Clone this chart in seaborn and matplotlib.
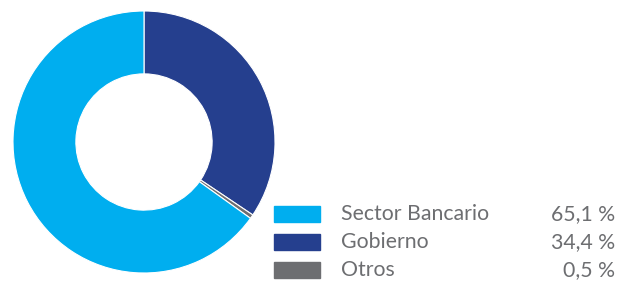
import matplotlib
matplotlib.use("Agg")
import matplotlib.pyplot as plt
from matplotlib.patches import Rectangle
import seaborn as sns

# data, in drawing order (clockwise from 12 o'clock)
labels = ["Gobierno", "Otros", "Sector Bancario"]
values = [34.4, 0.5, 65.1]
colors = ["#253f8e", "#6d6e71", "#00aeef"]
# legend order as in the reference
legend_labels = ["Sector Bancario", "Gobierno", "Otros"]
legend_values = ["65,1 %", "34,4 %", "0,5 %"]
legend_colors = ["#00aeef", "#253f8e", "#6d6e71"]

sns.set_style("white")
plt.rcParams['font.family'] = ['Lato', 'DejaVu Sans']

W, H = 620, 285
fig = plt.figure(figsize=(W / 100, H / 100), dpi=100)

def box(x0, y0, w, h):
    # pixel box (top-left origin) -> figure fraction
    return [x0 / W, 1 - (y0 + h) / H, w / W, h / H]

cx, cy, r = 144, 142, 131
ax = fig.add_axes(box(cx - r, cy - r, 2 * r, 2 * r))
ax.pie(values, colors=colors, startangle=90, counterclock=False, radius=1,
       wedgeprops=dict(width=0.48, edgecolor="white", linewidth=0.8))
ax.set_xlim(-1, 1)
ax.set_ylim(-1, 1)
ax.set_aspect("equal")
ax.axis("off")

# legend drawn by hand
for i, (lab, val, col) in enumerate(zip(legend_labels, legend_values, legend_colors)):
    y = 206 + i * 28
    fig.patches.append(Rectangle((274 / W, 1 - (y + 16) / H), 46 / W, 16 / H,
                                 transform=fig.transFigure, color=col))
    yc = 1 - (y + 8) / H
    fig.text(341 / W, yc, lab, ha="left", va="center", fontsize=15.3,
             color="#6d6e71")
    fig.text(615 / W, yc, val, ha="right", va="center", fontsize=15.3,
             color="#6d6e71")

fig.savefig("out.png", dpi=100)
